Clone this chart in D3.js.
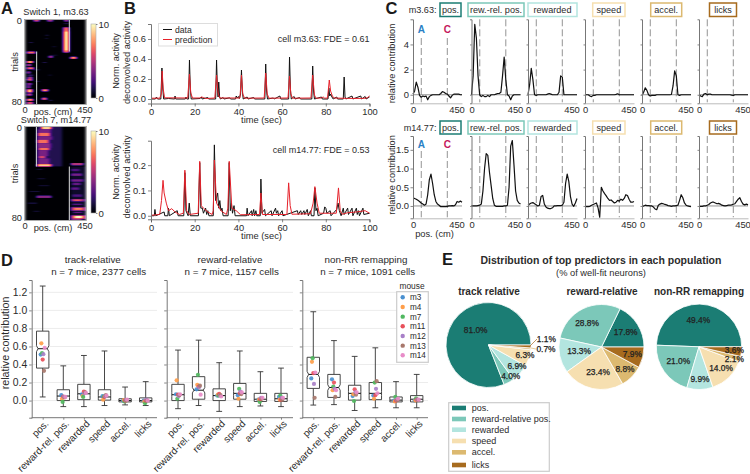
<!DOCTYPE html>
<html><head><meta charset="utf-8">
<script src="https://cdn.jsdelivr.net/npm/d3@7"></script>
<style>
html,body{margin:0;padding:0;background:#fff}
svg{display:block}
text{font-family:"Liberation Sans",Arial,sans-serif;fill:#2b2b2b}
</style></head><body><svg id="fig" width="750" height="474"></svg>
<script>
// ---------- Panel A data: [trialStart, trialEnd, posStart, posEnd, activity]
const heatTop=[[0,1.5,65,105,6],[0,1.5,165,205,5],[0,1.5,290,320,5],[3,4,285,325,1.5],[14,15,150,175,1.5],[17,18,150,170,1.2],[21,22,30,60,1.5],[25,26,200,230,1],[33,34,200,240,1],[40,41,130,160,1.5],[52,53,170,200,1],[76,77,175,205,1.5],[47,48,60,110,1.5],[58,59,75,110,1.2],
[7,31,282,326,7],[11,29,290,320,10],[30,32,15,75,7],[34,36,175,205,5],[35,37,335,380,8],[39,41,15,60,8],[42,44,15,45,5],[45,47,15,65,7],[49,51,15,40,5],[52,53,20,60,3],[54,58,20,55,5],[56,57,15,50,7],[60,62,15,50,4],[62,65,15,40,4],[66,69,15,55,9],[70,72,15,50,6],[75,77,15,60,8],[78,80,15,60,6],[66,68,125,170,8],[74,76,125,160,7]];
const heatBottom=[[0,34,85,275,1.4],[36,37,85,130,1],[44,45,90,150,1],[50,51,100,180,1],[55,56,30,110,1],[65,66,20,90,1.5],[72,73,60,110,1],[34,80,335,450,0.8],
[0,2,120,195,9],[2,5,95,190,3.5],[5,8,95,185,7],[8,11,90,200,3.5],[11,14,90,175,7],[14,18,90,190,4],[18,20,100,180,7],[20,25,95,170,3.5],[25,27,100,150,6],[27,32,95,180,3.5],[32,34,90,195,9],
[59,61,85,195,4],[31,33,340,430,5],[36,38,340,400,2.5],[40,42,340,420,3.5],[45,47,340,430,3.5],[48,50,350,410,3],[52,54,340,400,3],[58,60,350,420,2.5],[62,64,340,440,4.5],[62.5,63.5,360,410,7],[66,67,350,420,3],[69,72,340,445,5],[70,71,360,425,9],[73,74,360,420,3],[76,79,340,445,6],[76.5,78.5,365,425,10],[79,80,340,420,4]];
// ---------- Panel B data: [time, activity]
const dataTop=[[0,0],[2,0],[2.5,.02],[3,0],[4.5,0],[5,.31],[5.4,.1],[5.8,0],[8,.005],[10.8,0],[11,.03],[11.3,0],[15.7,0],[16,.02],[16.4,0],[17.2,0],[17.6,.39],[18,.1],[18.4,0],[22.5,.005],[23,.02],[23.4,0],[26,.015],[26.4,0],[29.6,0],[30,.39],[30.4,.1],[30.7,.02],[31,.17],[31.4,.02],[31.8,0],[33,.015],[33.4,0],[36,.012],[36.4,0],[38.7,0],[39,.03],[39.5,.01],[40,.025],[40.4,.005],[41,.05],[41.4,.29],[41.8,.08],[42.2,0],[44,.02],[44.4,0],[47,.015],[47.4,0],[52.1,0],[52.5,.35],[52.9,.08],[53.3,0],[56,.01],[56.4,0],[59,.03],[59.4,0],[63,0],[63.4,.42],[63.8,.1],[64.2,0],[65.5,.025],[66,0],[68,.015],[68.4,0],[73.6,0],[74,.33],[74.4,.08],[74.8,0],[78,.02],[78.4,0],[81,0],[81.4,.11],[81.8,.03],[82.2,.05],[82.8,.02],[83.4,0],[85,.02],[85.4,0],[88,0],[88.4,.22],[88.8,.02],[89.2,0],[92,.03],[92.4,0],[96,.03],[96.4,0],[98,.025],[98.4,0],[100,.02]];
const predTop=[[0,.008],[4,.008],[4.7,.05],[5.1,.28],[5.6,.1],[6.2,.012],[16.8,.01],[17.6,.25],[18.2,.06],[19,.01],[22.5,.01],[23,.02],[24,.015],[25,.005],[29.2,.01],[30,.24],[30.7,.06],[31.5,.01],[40.7,.01],[41.4,.24],[42,.05],[42.8,.008],[51.8,.01],[52.5,.26],[53.2,.05],[54,.008],[62.7,.01],[63.4,.23],[64,.05],[64.8,.008],[73.2,.01],[74,.24],[74.8,.04],[75.5,.008],[78,.01],[78.8,.02],[79.5,.008],[80.8,.01],[81.6,.19],[82.2,.08],[83,.03],[83.8,.01],[90,.006],[97,.006],[99,.012],[100,.03]];
const dataBottom=[[0,0],[1.5,0],[1.8,.025],[2.2,0],[6,.015],[6.3,0],[7.7,0],[8,.03],[8.4,0],[12,.02],[12.4,0],[15,0],[15.5,.17],[16,.02],[17,0],[17.5,.05],[18,0],[21.7,0],[22.3,.21],[22.8,.03],[23.5,.03],[24,.01],[25,.03],[25.5,.005],[26,.02],[26.5,0],[28.5,0],[29,.28],[29.6,.06],[30.5,.09],[31,.03],[31.5,.06],[32,.02],[32.5,.03],[33,0],[35.3,0],[35.8,.21],[36.3,.02],[36.8,.05],[37.3,.01],[38,.04],[38.5,0],[43.7,0],[44,.03],[44.4,0],[46,.02],[46.3,0],[47,.025],[47.4,0],[48,.02],[48.4,0],[50,0],[50.3,.145],[50.8,.01],[51.5,.02],[52,.025],[52.4,0],[55,.02],[55.4,0],[57,.03],[57.4,.01],[58,.02],[58.4,0],[60,.02],[60.4,0],[67,.02],[67.4,.005],[68.5,.02],[69,.005],[70,.02],[70.4,.005],[71.5,.025],[72,0],[73,.02],[73.4,0],[74.6,0],[75,.11],[75.5,.02],[76,.03],[76.5,0],[79,.01],[79.5,.035],[80,.03],[80.5,.01],[82,.02],[82.4,0],[85,.025],[85.6,.05],[86.2,.02],[87,0],[88,.03],[88.4,.005],[90,.03],[90.4,.005],[92,.03],[92.4,0],[94,.03],[94.4,.005],[95,.02],[95.4,0],[97,.03],[97.4,.005],[100,.01]];
const predBottom=[[0,.002],[4,.005],[4.8,.06],[5.5,.14],[6,.09],[7,.05],[8,.02],[9.5,.028],[11,.015],[13,.005],[14.8,.01],[15.5,.18],[16.3,.02],[17.5,.005],[21.6,.01],[22.3,.215],[23,.04],[24,.03],[26,.015],[28,.005],[28.5,.02],[29,.22],[30,.05],[32,.02],[34.5,.005],[35.2,.03],[35.8,.215],[37,.03],[39,.02],[41,.004],[49.7,.005],[50.3,.09],[51,.005],[62.2,.005],[63,.13],[63.7,.04],[64.5,.006],[73,.008],[74.2,.05],[75,.115],[76,.05],[77,.01],[84.8,.01],[85.8,.11],[86.6,.02],[87.5,.006],[90,.012],[94,.015],[98,.02],[100,.01]];
// ---------- Panel C data: contribution at evenly spaced positions 0..450 cm
const c1Pos=[.05,.3,1,.6,-.05,-.2,-.1,-.15,-.1,-.4,-.15,-.05,0,0,0,0,0,.1,.25,.2,.1,.05,-.1,-.25,-.05,.05,.05,.05,.05,0,0];
const c1Rew=[0,1.5,5.6,4.5,1.5,0,-.15,-.05,-.15,-.15,-.05,-.15,0,0,0,.05,.1,.1,.2,1.5,3,1.2,0,-.1,-.4,-.1,0,0,0,0,0];
const c1Rwd=[0,.8,2.1,1.2,0,-.05,0,0,0,0,0,0,.05,.1,.05,0,0,0,0,.2,1.5,1.4,0,0,0,0,0,0,0,0,0];
const c1Spd=[0,0,0,-.1,-.15,-.05,-.05,0,0,0,0,0,0,0,0,0,0,0,0,.03,.08,0,0,0,0,0,0,0,0,0,0];
const c1Acc=[-.05,.2,.55,.35,0,-.1,-.05,-.05,-.05,0,0,0,0,0,0,0,0,0,.02,.7,1.9,1.5,0,-.05,0,0,0,0,0,0,0];
const c1Lck=[0,-.1,-.15,.05,.1,0,.05,.05,0,0,0,0,0,0,0,0,0,0,0,0,-.03,-.05,0,0,0,0,0,0,0,0,0];
const c2Pos=[.2,.2,.18,.15,.12,.08,.05,.02,.05,.3,.7,.85,.6,.3,.12,.05,.02,-.02,-.02,-.02,-.02,-.01,0,0,.01,0,.03,.12,.1,.13,.1];
const c2Rew=[0,0,0,0,.01,.02,.05,.4,1,1.4,1.35,.9,.55,.2,.02,-.01,-.01,-.01,-.01,-.01,0,0,.02,.5,1.6,1.75,1.1,.4,.15,.08,.05];
const c2Rwd=[.02,.05,.08,.09,.06,.03,0,.02,.25,.28,.05,-.03,-.06,-.07,-.07,-.05,0,0,.01,.01,.01,.02,.1,.6,.85,.65,.25,.05,-.01,.08,.2];
const c2Spd=[-.02,-.02,-.02,-.01,.02,.04,.06,.08,-.05,-.3,.5,.4,.33,.27,.2,.15,.16,.12,.08,.1,.15,.13,.18,.15,.2,.3,.28,.18,.1,.1,.12];
const c2Acc=[-.02,0,.02,.01,.01,0,0,-.03,-.08,-.1,.02,.05,.07,.06,.04,.03,.01,0,-.01,0,0,.01,.02,.15,.3,.22,.08,.02,0,-.01,-.02];
const c2Lck=[-.02,-.01,-.01,0,0,.02,.04,.08,.1,.1,.08,.06,.07,.05,.02,.01,0,.01,.02,.02,.03,.05,.06,.12,.18,.22,.12,.05,.03,.05,.03];
const predictorShort=["pos.","rew.-rel. pos.","rewarded","speed","accel.","licks"];
// ---------- Panel D data
const boxCategories=["pos.","reward-rel. pos.","rewarded","speed","accel.","licks"];
const mice=["m3","m4","m7","m11","m12","m13","m14"];
const mouseColors=["#4a90d0","#ff9e4a","#50b860","#e8505a","#a880c8","#a8786c","#e88cc8"];
// [whisker low, q1, median, q3, whisker high]
const boxTrack=[[.04,.36,.575,.77,1.27],[-.067,0,.05,.12,.385],[-.067,.01,.075,.18,.5],[-.055,.005,.04,.12,.55],[-.048,-.015,0,.02,.15],[-.055,-.015,0,.03,.21]];
const boxReward=[[-.09,0,.065,.18,.56],[-.055,.015,.115,.265,.67],[-.12,0,.055,.13,.42],[-.067,.015,.08,.19,.55],[-.06,-.01,.015,.08,.32],[-.067,-.01,.02,.08,.36]];
const boxNonRR=[[-.05,.135,.29,.48,.985],[-.045,.035,.145,.29,.665],[-.11,.005,.08,.17,.49],[-.08,.01,.08,.2,.585],[-.08,-.015,.005,.04,.21],[-.08,-.015,.015,.055,.29]];
// mouse means per category, in mice order
const dotsTrack=[[.51,.635,.525,.455,.515,.33,.585],[.06,.02,-.015,.045,.04,.035,.04],[.07,.05,.04,.1,.08,.09,.085],[.05,.01,.045,.04,.05,.06,.055],[0,.005,-.01,0,.005,0,.01],[0,-.01,-.03,0,.01,0,0]];
const dotsReward=[[.07,.225,.02,.065,.05,.06,.07],[.125,.175,.285,.155,.15,.165,.065],[.055,.065,.055,.075,.055,.06,.045],[.06,.02,.13,.08,.1,.07,.09],[.01,.01,-.015,.015,.03,.02,.03],[.04,.01,.055,.01,.03,.01,.03]];
const dotsNonRR=[[.245,.43,.47,.305,.185,.03,.31],[.235,.115,.155,.2,.13,.04,.115],[.05,.07,-.005,.125,.09,.065,.09],[.055,.02,.2,.06,.13,.215,.08],[0,-.01,.04,0,.01,.005,.02],[0,0,.025,.01,.01,.005,.01]];
// ---------- Panel E data
const pieNames=["pos.","reward-relative pos.","rewarded","speed","accel.","licks"];
const pieColors=["#1b7d74","#7cc8b9","#b3e5df","#f6dfb0","#dcb970","#a76b1e"];
const pieTrack=[81.0,4.0,6.9,6.3,0.7,1.1];
const pieReward=[17.8,28.8,13.3,23.4,8.8,7.9];
const pieNonRR=[49.4,21.0,9.9,14.0,2.1,3.6];

// ---------- helpers
const svg=d3.select("#fig");
const defs=svg.append("defs");
const FS=9.3, GREY="#777";
function txt(x,y,s,o={}){
  const t=svg.append("text").attr("x",x).attr("y",y).attr("dy",".35em").text(s)
    .attr("font-size",o.size||FS).attr("text-anchor",o.anchor||"middle");
  if(o.bold)t.attr("font-weight","bold");
  if(o.color)t.style("fill",o.color);
  if(o.rotate!==undefined)t.attr("transform",`rotate(${o.rotate},${x},${y})`);
  return t;
}
function styleAxis(g,o={}){
  g.select(".domain").attr("stroke",o.spine||GREY).attr("stroke-width",o.sw||1);
  g.selectAll(".tick line").attr("stroke",o.tick||"#555").attr("stroke-width",.7);
  g.selectAll(".tick text").attr("font-size",o.size||FS).style("fill","#2b2b2b")
   .attr("font-family",'"Liberation Sans",Arial,sans-serif');
  return g;
}
[["A",1,8.5],["B",124,8.5],["C",385.5,8.5],["D",1,260],["E",442,259.5]].forEach(d=>txt(d[1],d[2],d[0],{size:16.5,bold:true,anchor:"start",color:"#1a1a1a"}));

// ---------- Panel A
const magmaTable=d3.range(48).map(i=>d3.rgb(d3.interpolateMagma(i/47)));
const f=defs.append("filter").attr("id","magmaMap").attr("color-interpolation-filters","sRGB")
  .attr("x",0).attr("y",0).attr("width",1).attr("height",1);
f.append("feGaussianBlur").attr("stdDeviation","1.4 0.7");
const ct=f.append("feComponentTransfer");
["R","G","B"].forEach(c=>ct.append("feFunc"+c).attr("type","table")
  .attr("tableValues",magmaTable.map(k=>(k[c.toLowerCase()]/255).toFixed(3)).join(" ")));
const grad=defs.append("linearGradient").attr("id","cbar").attr("x1",0).attr("y1",1).attr("x2",0).attr("y2",0);
d3.range(21).forEach(i=>grad.append("stop").attr("offset",i/20).attr("stop-color",d3.interpolateMagma(i/20)));
function heatmap(blobs,y0,y1,title,tY,cb0,cb1,switches,id){
  const x=d3.scaleLinear().domain([0,450]).range([25,86]);
  const y=d3.scaleLinear().domain([0,80]).range([y0,y1]);
  defs.append("clipPath").attr("id",id).append("rect").attr("x",25).attr("y",y0).attr("width",61).attr("height",y1-y0);
  const outer=svg.append("g").attr("clip-path",`url(#${id})`);
  const g=outer.append("g").attr("filter","url(#magmaMap)");
  g.append("rect").attr("x",25).attr("y",y0).attr("width",61).attr("height",y1-y0).attr("fill","#000");
  g.selectAll("rect.b").data(blobs).join("rect").attr("class","b")
   .attr("x",d=>x(d[2])).attr("width",d=>x(d[3])-x(d[2]))
   .attr("y",d=>y(d[0])).attr("height",d=>y(d[1])-y(d[0]))
   .attr("fill",d=>{const c=Math.round(d[4]*25.5);return `rgb(${c},${c},${c})`;});
  svg.append("rect").attr("x",24.5).attr("y",y0-.5).attr("width",62).attr("height",y1-y0+1).attr("fill","none").attr("stroke","#999").attr("stroke-width",.8);
  switches.forEach(s=>svg.append("line").attr("x1",x(s[0])).attr("x2",x(s[0])).attr("y1",y(s[1])).attr("y2",y(s[2])).attr("stroke","#ddd").attr("stroke-width",1));
  txt(56,tY,title,{size:9.2});
  txt(22,y0+1,"0",{size:9.3,anchor:"end"});
  txt(22,y1-2,"80",{size:9.3,anchor:"end"});
  txt(15,(y0+y1)/2,"trials",{size:9.3,rotate:-90});
  txt(25,y1+6,"0",{size:9.3});
  txt(53,y1+8,"pos. (cm)",{size:9.3});
  txt(85,y1+6,"450",{size:9.3});
  const cy=d3.scaleLinear().domain([0,10]).range([cb1,cb0]);
  svg.append("rect").attr("x",91).attr("y",cb0).attr("width",5).attr("height",cb1-cb0).attr("fill","url(#cbar)").attr("stroke","#aaa").attr("stroke-width",.6);
  styleAxis(svg.append("g").attr("transform","translate(96,0)").call(d3.axisRight(cy).tickValues([0,10]).tickSize(1.5).tickPadding(1)),{spine:"none",size:9.6});
  txt(115.5,(cb0+cb1)/2,"Norm. activity",{size:9.2,rotate:-90});
}
heatmap(heatTop,20,104,"Switch 1, m3.63",11.5,24,98,[[327,0,30],[86,30,80]],"h1");
heatmap(heatBottom,127,220,"Switch 7, m14.77",119.5,131,213,[[84,0,34],[327,34,80]],"h2");

// ---------- Panel B
function trace(dat,pred,yr,dom,ticks,fmt,titleY,title,bottomLabelY,ylabY){
  const x=d3.scaleLinear().domain([0,100]).range([151,369.5]);
  const y=d3.scaleLinear().domain(dom).range(yr);
  const line=d3.line().x(d=>x(d[0])).y(d=>y(d[1]));
  svg.append("path").datum(dat).attr("d",line).attr("fill","none").attr("stroke","#111").attr("stroke-width",1);
  svg.append("path").datum(pred).attr("d",line).attr("fill","none").attr("stroke","#e6222b").attr("stroke-width",1);
  styleAxis(svg.append("g").attr("transform",`translate(0,${yr[0]})`).call(d3.axisBottom(x).tickValues([0,20,40,60,80,100]).tickSize(3).tickPadding(2)));
  styleAxis(svg.append("g").attr("transform","translate(151,0)").call(d3.axisLeft(y).tickValues(ticks).tickFormat(d3.format(fmt)).tickSize(3).tickPadding(2)));
  txt(369.5,titleY,title,{anchor:"end",size:9});
  txt(261.5,bottomLabelY,"time (sec)",{size:9.3});
  txt(126.5,ylabY,"deconvolved activity",{size:9.3,rotate:-90});
}
trace(dataTop,predTop,[103.5,24],[-.045,.75],[0,.2,.4,.6],".1f",38.5,"cell m3.63: FDE = 0.61",120,62.5);
trace(dataBottom,predBottom,[219.3,140.7],[-.014,.2965],[0,.1,.2],".1f",150,"cell m14.77: FDE = 0.53",236,177);
svg.append("rect").attr("x",158.5).attr("y",23.5).attr("width",59).attr("height",22.5).attr("fill","#fff").attr("stroke","#ddd");
[["data","#111",29.5],["prediction","#e6222b",39.5]].forEach(d=>{
  svg.append("line").attr("x1",163).attr("x2",172).attr("y1",d[2]).attr("y2",d[2]).attr("stroke",d[1]).attr("stroke-width",1);
  txt(175,d[2],d[0],{anchor:"start",size:8.6});
});

// ---------- Panel C
const boxColors=["#1b7d74","#7cc8b9","#b3e5df","#f6dfb0","#dcb970","#a76b1e"];
const colX=[413,471.5,528,585,642,699];
const headerBoxes=[[440,461],[468,524],[528,577],[592.7,625],[650.7,681.7],[709.5,736.5]];
function cRow(series,yr,dom,ticks,fmt,name,nameRight,head0,head1,dash0,abY,rowLabelY){
  const y=d3.scaleLinear().domain(dom).range(yr);
  series.forEach((s,i)=>{
    const x=d3.scaleLinear().domain([0,450]).range([colX[i],colX[i]+49]);
    const px=d3.scaleLinear().domain([0,s.length-1]).range([0,450]);
    [76,315].forEach(v=>svg.append("line").attr("x1",x(v)).attr("x2",x(v))
      .attr("y1",i===0?dash0:yr[1]).attr("y2",yr[0]-1).attr("stroke","#888").attr("stroke-width",.9).attr("stroke-dasharray","7 3"));
    svg.append("line").attr("x1",x(0)).attr("x2",x(450)).attr("y1",y(0)).attr("y2",y(0)).attr("stroke","#888").attr("stroke-width",.9);
    svg.append("path").datum(s).attr("fill","none").attr("stroke","#111").attr("stroke-width",1.2).attr("stroke-linejoin","round")
      .attr("d",d3.line().x((d,j)=>x(px(j))).y(d=>y(d)));
    const ay=d3.axisLeft(y).tickValues(ticks).tickSize(i===0?2.5:1.5).tickPadding(1.5);
    ay.tickFormat(i===0?d3.format(fmt):()=> "");
    styleAxis(svg.append("g").attr("transform",`translate(${colX[i]},0)`).call(ay),{size:9.4});
    const ax=d3.axisBottom(x).tickValues([0,450]).tickSize(0).tickPadding(3);
    const gx=styleAxis(svg.append("g").attr("transform",`translate(0,${yr[0]})`).call(ax),{spine:"#bbb",size:9.4});
    gx.selectAll(".tick text").attr("dx",d=>d===0?0:-5.5);
    const hb=headerBoxes[i];
    svg.append("rect").attr("x",hb[0]).attr("y",head0).attr("width",hb[1]-hb[0]).attr("height",head1-head0)
      .attr("fill","#fff").attr("stroke",boxColors[i]).attr("stroke-width",1.5);
    txt((hb[0]+hb[1])/2,(head0+head1)/2,predictorShort[i],{size:9.1});
  });
  txt(nameRight,(head0+head1)/2,name,{anchor:"end",size:9.1});
  const x0=d3.scaleLinear().domain([0,450]).range([colX[0],colX[0]+49]);
  txt(x0(76),abY,"A",{bold:true,size:10,color:"#2a7fc5"});
  txt(x0(315),abY,"C",{bold:true,size:10,color:"#c4185c"});
  txt(391.7,rowLabelY,"relative contribution",{size:9.2,rotate:-90});
}
cRow([c1Pos,c1Rew,c1Rwd,c1Spd,c1Acc,c1Lck],[103.3,19.3],[-.68,6],[0,2,4],"d","m3.63:",436.5,3,16.5,38,29.5,63.5);
cRow([c2Pos,c2Rew,c2Rwd,c2Spd,c2Acc,c2Lck],[218.3,136],[-.33,1.87],[0,.5,1,1.5],".1f","m14.77:",436.5,121,134,151,144,175);
txt(434.5,234,"pos. (cm)",{size:9.3});

// ---------- Panel D
const dy=d3.scaleLinear().domain([-.19,1.337]).range([417.7,280]);
function boxPanel(axisX,first,last,end,boxes,dots,t1,t1x,t2,t2x,labels){
  const x=d3.scalePoint().domain(boxCategories).range([first,last]);
  [0,.2,.4,.6,.8,1,1.2].forEach(v=>svg.append("line").attr("x1",axisX).attr("x2",end).attr("y1",dy(v)).attr("y2",dy(v)).attr("stroke","#ececec").attr("stroke-width",1));
  const hw=6.2;
  boxes.forEach((b,i)=>{
    const cx=x(boxCategories[i]);
    const [lo,q1,med,q3,hi]=b;
    [[q3,hi],[lo,q1]].forEach(w=>svg.append("line").attr("x1",cx).attr("x2",cx).attr("y1",dy(w[0])).attr("y2",dy(w[1])).attr("stroke","#333").attr("stroke-width",.9));
    [hi,lo].forEach(w=>svg.append("line").attr("x1",cx-2.9).attr("x2",cx+2.9).attr("y1",dy(w)).attr("y2",dy(w)).attr("stroke","#333").attr("stroke-width",.9));
    const yq1=dy(q1),yq3=dy(q3),ym=dy(med);
    const boxH=yq1-yq3, iw=boxH>22?hw*.75:hw, nh=Math.min(3,boxH*.12);
    const p=d3.path();
    p.moveTo(cx-hw,yq3);p.lineTo(cx+hw,yq3);p.lineTo(cx+hw,ym-nh);p.lineTo(cx+iw,ym);p.lineTo(cx+hw,ym+nh);p.lineTo(cx+hw,yq1);
    p.lineTo(cx-hw,yq1);p.lineTo(cx-hw,ym+nh);p.lineTo(cx-iw,ym);p.lineTo(cx-hw,ym-nh);p.closePath();
    svg.append("path").attr("d",p.toString()).attr("fill","#fff").attr("fill-opacity",.85).attr("stroke","#333").attr("stroke-width",.9);
    svg.append("line").attr("x1",cx-iw).attr("x2",cx+iw).attr("y1",ym).attr("y2",ym).attr("stroke","#111").attr("stroke-width",1);
    dots[i].forEach((v,j)=>svg.append("circle").attr("cx",cx+(j-3)*.67).attr("cy",dy(v)).attr("r",2.1).attr("fill",mouseColors[j]).attr("fill-opacity",.92));
    svg.append("text").attr("transform",`translate(${cx+4},${422}) rotate(-45)`).attr("text-anchor","end").attr("dy",".35em").attr("font-size",9.8).text(boxCategories[i]);
  });
  const ax=d3.axisBottom(x).tickSize(2).tickFormat(()=> "");
  const gx=styleAxis(svg.append("g").attr("transform","translate(0,417.7)").call(ax));
  gx.select(".domain").remove();
  svg.append("line").attr("x1",axisX).attr("x2",end).attr("y1",417.7).attr("y2",417.7).attr("stroke",GREY);
  const ay=d3.axisLeft(dy).tickValues([0,.2,.4,.6,.8,1,1.2]).tickSize(2.5).tickPadding(2);
  ay.tickFormat(labels?d3.format(".1f"):()=> "");
  styleAxis(svg.append("g").attr("transform",`translate(${axisX},0)`).call(ay),{size:10.4});
  txt(t1x,259.5,t1,{size:9.8});
  txt(t2x,272,t2,{size:9.8});
}
boxPanel(31.7,42.7,145.7,157,boxTrack,dotsTrack,"track-relative",92.7,"n = 7 mice, 2377 cells",98.7,true);
boxPanel(166.7,178,281,293,boxReward,dotsReward,"reward-relative",230,"n = 7 mice, 1157 cells",231.7,false);
boxPanel(302.3,313.3,416.7,428,boxNonRR,dotsNonRR,"non-RR remapping",366,"n = 7 mice, 1091 cells",367.7,false);
txt(5.5,343,"relative contribution",{size:10.7,rotate:-90});
txt(412,286,"mouse",{size:8.4});
svg.append("rect").attr("x",396.7).attr("y",291.7).attr("width",31.6).attr("height",70.6).attr("fill","#fff").attr("stroke","#ccc").attr("stroke-width",1.2);
mice.forEach((m,i)=>{
  svg.append("circle").attr("cx",402.7).attr("cy",297.3+i*9.67).attr("r",2.2).attr("fill",mouseColors[i]);
  txt(410,297.3+i*9.67,m,{anchor:"start",size:8.2});
});

// ---------- Panel E
txt(601,260.7,"Distribution of top predictors in each population",{bold:true,size:10.5});
txt(601,272.7,"(% of well-fit neurons)",{size:9.3});
const pieGen=d3.pie().sort(null).startAngle(Math.PI/2).endAngle(Math.PI/2-2*Math.PI);
function pieChart(vals,cx,cy,r,title,titleX,labelAt){
  const g=svg.append("g").attr("transform",`translate(${cx},${cy})`);
  const arc=d3.arc().innerRadius(0).outerRadius(r);
  g.selectAll("path").data(pieGen(vals)).join("path").attr("d",arc).attr("fill",(d,i)=>pieColors[i]).attr("stroke","#fff").attr("stroke-width",.8);
  txt(titleX,291,title,{bold:true,size:10});
  vals.forEach((v,i)=>txt(labelAt[i][0],labelAt[i][1],v.toFixed(1)+"%",{size:8.4,color:"#222"}).attr("stroke","#222").attr("stroke-width",.25));
}
pieChart(pieTrack,488.5,345,42.5,"track relative",489,[[475.7,330],[510.7,376],[517,365.7],[525,354.7],[546,348.7],[546.3,338.7]]);
pieChart(pieReward,601.5,347,42.5,"reward-relative",602,[[625.7,332.3],[587,322.7],[579,351.3],[598,371.7],[625,369],[632.3,354]]);
pieChart(pieNonRR,699,346.8,42.7,"non-RR remapping",699,[[698.3,320.3],[678.3,360.7],[700,379.3],[721,368],[734.3,359],[734.3,350.3]]);
svg.append("line").attr("x1",530).attr("y1",346).attr("x2",537).attr("y2",339).attr("stroke",pieColors[5]).attr("stroke-width",.7);
svg.append("line").attr("x1",531).attr("y1",348).attr("x2",536).attr("y2",349).attr("stroke",pieColors[4]).attr("stroke-width",.7);
svg.append("rect").attr("x",448.7).attr("y",402.7).attr("width",100.6).attr("height",68.6).attr("fill","#fff").attr("stroke","#ccc").attr("stroke-width",1.2);
const legY=[408,419,429.7,441,452.3,465];
pieNames.forEach((n,i)=>{
  svg.append("rect").attr("x",452).attr("y",legY[i]-2.3).attr("width",14).attr("height",4.6).attr("fill",pieColors[i]);
  txt(471.7,legY[i],n,{anchor:"start",size:9});
});
</script></body></html>
